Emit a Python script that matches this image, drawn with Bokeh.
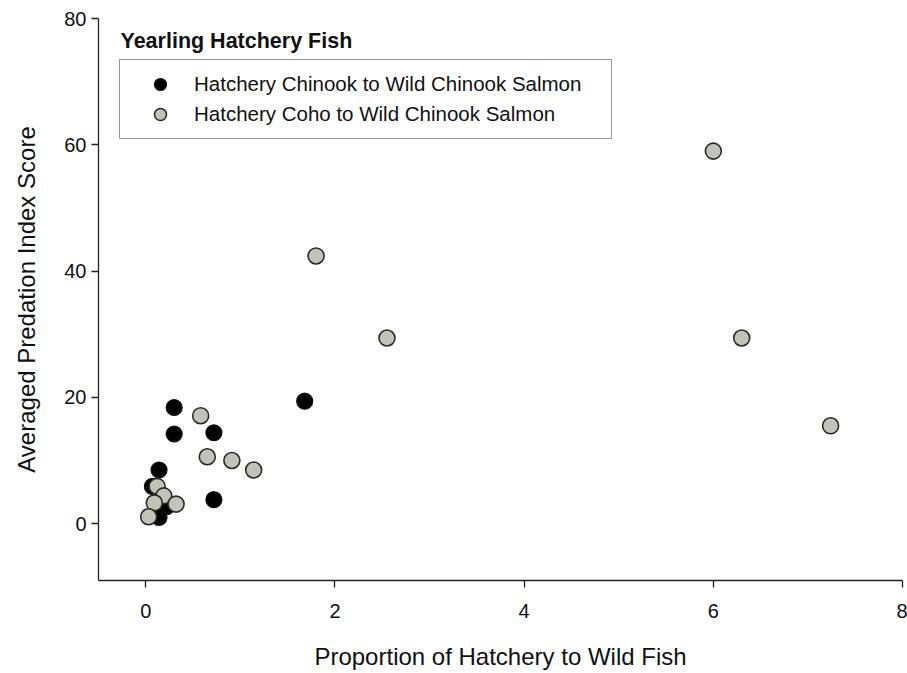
from bokeh.plotting import figure
from bokeh.models import Range1d, Legend, LegendItem, Label, FixedTicker
from bokeh.embed import file_html
from bokeh.resources import INLINE

# Data
chinook_x = [0.30, 0.30, 0.72, 1.68, 0.14, 0.07, 0.22, 0.14, 0.72]
chinook_y = [18.4, 14.2, 14.4, 19.4, 8.5, 5.9, 2.7, 1.0, 3.8]
coho_x = [6.00, 6.30, 7.24, 1.80, 2.55, 0.58, 0.65, 0.91, 1.14, 0.12, 0.19, 0.09, 0.32, 0.03]
coho_y = [59.0, 29.4, 15.5, 42.4, 29.4, 17.1, 10.6, 10.0, 8.5, 5.9, 4.4, 3.3, 3.1, 1.1]
x_ticks = [0, 2, 4, 6, 8]
y_ticks = [0, 20, 40, 60, 80]
series_labels = ["Hatchery Chinook to Wild Chinook Salmon", "Hatchery Coho to Wild Chinook Salmon"]
title_text = "Yearling Hatchery Fish"

FONT = "Liberation Sans"

p = figure(width=907, height=673, output_backend="svg", toolbar_location=None,
           x_range=Range1d(-0.5, 8.0), y_range=Range1d(-9, 80),
           min_border_left=98, min_border_right=5, min_border_top=18, min_border_bottom=93)
p.outline_line_color = None
p.xgrid.visible = False
p.ygrid.visible = False
p.background_fill_color = "white"

for ax in (p.xaxis[0], p.yaxis[0]):
    ax.axis_line_color = "#222222"
    ax.axis_line_width = 1.3
    ax.major_tick_line_color = "#222222"
    ax.major_tick_line_width = 1.3
    ax.major_tick_out = 7
    ax.major_tick_in = 0
    ax.minor_tick_line_color = None
    ax.major_label_text_font = FONT
    ax.major_label_text_font_size = "20px"
    ax.major_label_text_color = "#111111"
    ax.axis_label_text_font = FONT
    ax.axis_label_text_font_size = "24px"
    ax.axis_label_text_font_style = "normal"
    ax.axis_label_text_color = "#111111"

p.xaxis.ticker = FixedTicker(ticks=x_ticks)
p.yaxis.ticker = FixedTicker(ticks=y_ticks)
p.xaxis.axis_label = "Proportion of Hatchery to Wild Fish"
p.yaxis.axis_label = "Averaged Predation Index Score"
p.xaxis.major_label_standoff = 16
p.xaxis.axis_label_standoff = 22
p.yaxis.major_label_standoff = 5
p.yaxis.axis_label_standoff = 21

r1 = p.scatter(chinook_x, chinook_y, size=16, fill_color="black", line_color="#111111", line_width=1.2)
r2 = p.scatter(coho_x, coho_y, size=16, fill_color="#c2c2b8", line_color="#2a2a2a", line_width=1.6)

legend = Legend(items=[LegendItem(label=series_labels[0], renderers=[r1]),
                       LegendItem(label=series_labels[1], renderers=[r2])],
                location=(21, 441))
legend.glyph_height = 30
legend.glyph_width = 62
legend.label_height = 20
legend.spacing = 0
legend.padding = 9
legend.margin = 0
legend.label_standoff = 3
legend.label_width = 408
legend.label_text_font = FONT
legend.label_text_font_size = "20.5px"
legend.label_text_color = "#111111"
legend.border_line_color = "#333333"
legend.border_line_width = 1.2
legend.background_fill_color = "white"
legend.background_fill_alpha = 1.0
p.add_layout(legend, "center")

title = Label(x=22, y=540, x_units="screen", y_units="screen", text=title_text,
              text_font=FONT, text_font_size="21.5px", text_font_style="bold",
              text_color="#111111", text_baseline="middle")
p.add_layout(title)

open("out.html", "w").write(file_html(p, INLINE))
